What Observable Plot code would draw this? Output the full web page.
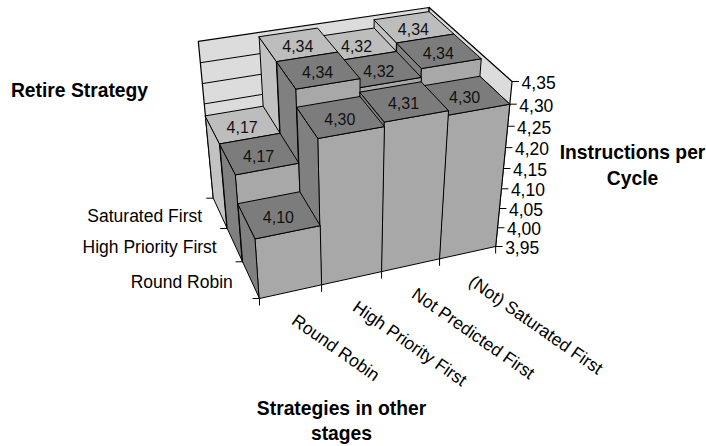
<!DOCTYPE html>
<html>
<head>
<meta charset="utf-8">
<script src="https://cdn.jsdelivr.net/npm/d3@7"></script>
<script src="https://cdn.jsdelivr.net/npm/@observablehq/plot@0.6"></script>
<style>
  html, body { margin: 0; padding: 0; background: #fff; }
  svg { display: block; }
</style>
</head>
<body>
<div id="chart"></div>
<script>
// Instructions per cycle by retire strategy (rows) and strategy in other stages (columns)
const columns = ["Round Robin", "High Priority First", "Not Predicted First", "(Not) Saturated First"];
const rows = ["Round Robin", "High Priority First", "Saturated First"];
const roundRobin = [4.10, 4.30, 4.31, 4.30];
const highPriority = [4.17, 4.34, 4.32, 4.34];
const saturated = [4.17, 4.34, 4.32, 4.34];
const series = [roundRobin, highPriority, saturated];
const valueTicks = [3.95, 4.00, 4.05, 4.10, 4.15, 4.20, 4.25, 4.30, 4.35];

const FONT = "Liberation Sans, Arial, sans-serif";
const comma = (v) => v.toFixed(2).replace(".", ",");

// Perspective camera: column position u, row depth v and value height w map to the page
const height = d3.scaleLinear([3.95, 4.35], [0, 8]);
function project(u, v, value) {
  const w = height(value);
  const d = 1 + 0.0175 * u + 0.0513 * v - 0.01387 * w;
  return {
    x: (259 + 67.7 * u - 4.5 * v - 4.9 * w) / d,
    y: (298 - 8.7 * u - 23.3 * v - 23.19 * w) / d
  };
}

const shade = {
  wall: "#dcdcdc",
  front: "#a8a8a8",
  side: "#808080",
  top: "#7c7c7c",
  backSide: "#c2c2c2",
  backTop: "#bdbdbd"
};

// Polygons are pushed back to front so nearer faces paint over farther ones
function addFace(list, fill, corners) {
  const id = list.length;
  for (const [u, v, value] of corners) {
    list.push({id, fill, ...project(u, v, value)});
  }
}
const base = valueTicks[0];
const ceiling = valueTicks[valueTicks.length - 1];
const nCols = columns.length, nRows = rows.length;

const walls = [];
addFace(walls, shade.wall, [[0, nRows, base], [nCols, nRows, base], [nCols, nRows, ceiling], [0, nRows, ceiling]]);
addFace(walls, shade.wall, [[nCols, nRows, base], [nCols, 0, base], [nCols, 0, ceiling], [nCols, nRows, ceiling]]);

const grid = [];
for (const t of valueTicks.slice(1, -1)) {
  for (const [u, v] of [[0, nRows], [nCols, nRows], [nCols, 0]]) {
    grid.push({tick: t, ...project(u, v, t)});
  }
}

const barFaces = [];
for (let r = nRows - 1; r >= 0; --r) {
  for (let c = nCols - 1; c >= 0; --c) {
    const val = series[r][c];
    const isBack = r === nRows - 1;
    addFace(barFaces, isBack ? shade.backSide : shade.side, [[c, r, base], [c, r + 1, base], [c, r + 1, val], [c, r, val]]);
    addFace(barFaces, shade.front, [[c, r, base], [c + 1, r, base], [c + 1, r, val], [c, r, val]]);
    addFace(barFaces, isBack ? shade.backTop : shade.top, [[c, r, val], [c + 1, r, val], [c + 1, r + 1, val], [c, r + 1, val]]);
  }
}

const valueLabels = series.flatMap((vals, r) =>
  vals.map((val, c) => ({text: comma(val), ...project(c + 0.5, r + 0.5, val)}))
);

const valueTickMarks = valueTicks.map((t) => ({t, ...project(nCols, 0, t)}));
const rowTickMarks = d3.range(nRows + 1).map((r) => project(0, r, base));
const colTickMarks = d3.range(nCols + 1).map((c) => project(c, 0, base));
const rowLabels = rows.map((name, r) => ({name, ...project(0, r + 0.5, base)}));
const colLabels = columns.map((name, c) => ({name, ...project(c + 0.5, 0, base)}));

const axisTitles = [
  {text: "Retire Strategy", x: 79, y: 90},
  {text: "Instructions per", x: 632, y: 152},
  {text: "Cycle", x: 632, y: 178},
  {text: "Strategies in other", x: 341, y: 408},
  {text: "stages", x: 341, y: 433}
];

const chart = Plot.plot({
  width: 706,
  height: 446,
  margin: 0,
  x: {type: "identity", axis: null},
  y: {type: "identity", axis: null},
  color: {type: "identity"},
  style: {fontFamily: FONT, background: "#fff"},
  marks: [
    Plot.line(walls, {x: "x", y: "y", z: "id", fill: "fill", stroke: "#000", strokeWidth: 1.2, curve: "linear-closed"}),
    Plot.line(grid, {x: "x", y: "y", z: "tick", stroke: "#000", strokeWidth: 1}),
    Plot.line(barFaces, {x: "x", y: "y", z: "id", fill: "fill", stroke: "#000", strokeWidth: 1, curve: "linear-closed"}),
    Plot.text(valueLabels, {x: "x", y: "y", text: "text", dy: 3, fontSize: 16, fill: "#111"}),
    Plot.link(valueTickMarks, {x1: "x", y1: "y", x2: (d) => d.x + 7, y2: "y", stroke: "#000"}),
    Plot.link(rowTickMarks, {x1: "x", y1: "y", x2: (d) => d.x - 7, y2: "y", stroke: "#000"}),
    Plot.link(colTickMarks, {x1: "x", y1: "y", x2: "x", y2: (d) => d.y + 7, stroke: "#000"}),
    Plot.text(valueTickMarks, {x: "x", y: "y", text: (d) => comma(d.t), dx: 9.5, dy: 2, textAnchor: "start", fontSize: 17.5, fill: "#000"}),
    Plot.text(rowLabels, {x: "x", y: "y", text: "name", dx: -18, dy: 3, textAnchor: "end", fontSize: 17.5, fill: "#000"}),
    Plot.text(colLabels, {x: "x", y: "y", text: "name", dx: 3, dy: 27, rotate: 35, textAnchor: "start", fontSize: 17.5, fill: "#000"}),
    Plot.text(axisTitles, {x: "x", y: "y", text: "text", fontSize: 19.3, fontWeight: "bold", fill: "#000"})
  ]
});
document.getElementById("chart").append(chart);
</script>
</body>
</html>
